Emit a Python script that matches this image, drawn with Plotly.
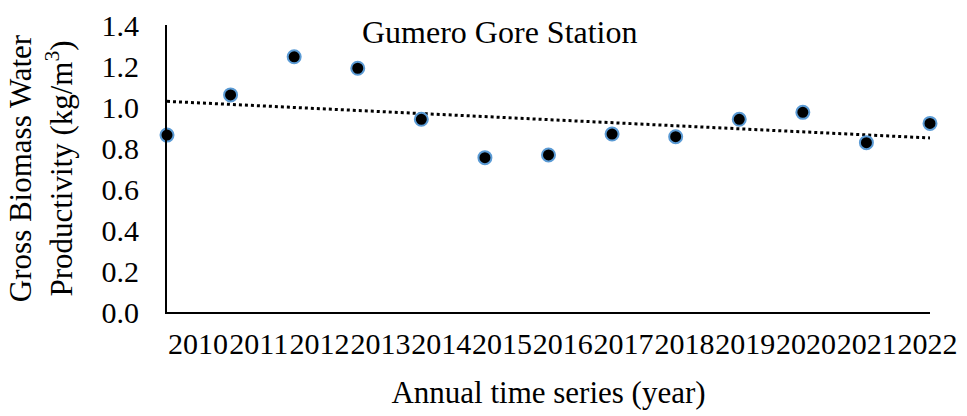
import numpy as np
import plotly.graph_objects as go

years = [2010, 2011, 2012, 2013, 2014, 2015, 2016, 2017, 2018, 2019, 2020, 2021, 2022]
gbwp = [0.863, 1.059, 1.245, 1.189, 0.940, 0.753, 0.766, 0.868, 0.855, 0.940, 0.974, 0.826, 0.920]
year_labels = [str(y) for y in years]
y_ticks = [0.0, 0.2, 0.4, 0.6, 0.8, 1.0, 1.2, 1.4]
y_ticktext = ["0.0", "0.2", "0.4", "0.6", "0.8", "1.0", "1.2", "1.4"]

slope, intercept = np.polyfit(years, gbwp, 1)
trend = [slope * x + intercept for x in years]

FONT = "Liberation Serif, Times New Roman, serif"

fig = go.Figure()
fig.add_trace(go.Scatter(
    x=years, y=trend, mode="lines",
    line=dict(color="black", width=3, dash="dot"),
    hoverinfo="skip", showlegend=False, cliponaxis=False,
))
fig.add_trace(go.Scatter(
    x=years, y=gbwp, mode="markers",
    marker=dict(color="black", size=13, line=dict(color="#5B9BD5", width=2)),
    showlegend=False, cliponaxis=False,
))
# invisible trace to drive the label axis
fig.add_trace(go.Scatter(
    x=years, y=gbwp, mode="markers", xaxis="x2",
    marker=dict(opacity=0), hoverinfo="skip", showlegend=False,
))

L, R, T, B = 167, 37, 25, 104
plot_w = 967 - L - R
plot_h = 416 - T - B

fig.update_layout(
    width=967, height=416,
    margin=dict(l=L, r=R, t=T, b=B),
    paper_bgcolor="white", plot_bgcolor="white",
    font=dict(family=FONT, color="black", size=30),
    xaxis=dict(
        range=[2010, 2022], showgrid=False, zeroline=False,
        showline=True, linecolor="black", linewidth=2,
        showticklabels=False, ticks="", automargin=False,
    ),
    xaxis2=dict(
        overlaying="x", anchor="y", side="bottom",
        range=[2009.49, 2022.04], showgrid=False, zeroline=False,
        showline=False, tickvals=years, ticktext=year_labels, tickangle=0,
        tickfont=dict(family=FONT, size=30, color="black"), ticks="",
        ticklabelstandoff=11, automargin=False,
        title=dict(text="Annual time series (year)",
                   font=dict(family=FONT, size=31, color="black"), standoff=22),
    ),
    yaxis=dict(
        range=[0, 1.4], showgrid=False, zeroline=False,
        showline=True, linecolor="black", linewidth=2,
        tickvals=y_ticks, ticktext=y_ticktext,
        tickfont=dict(family=FONT, size=30, color="black"),
        ticks="", ticklabelstandoff=20, automargin=False,
        title=dict(text="Gross Biomass Water<br>Productivity (kg/m<sup>3</sup>)",
                   font=dict(family=FONT, size=31, color="black"), standoff=20),
    ),
    annotations=[dict(
        text="Gumero Gore Station",
        x=(500 - L) / plot_w, y=(416 - B - 32) / plot_h,
        xref="paper", yref="paper", xanchor="center", yanchor="middle",
        showarrow=False, font=dict(family=FONT, size=32, color="black"),
    )],
)

fig.write_html(
    "out.html",
    config={"displayModeBar": False},
    post_script="document.body.style.margin='0';document.body.style.overflow='hidden';",
)
